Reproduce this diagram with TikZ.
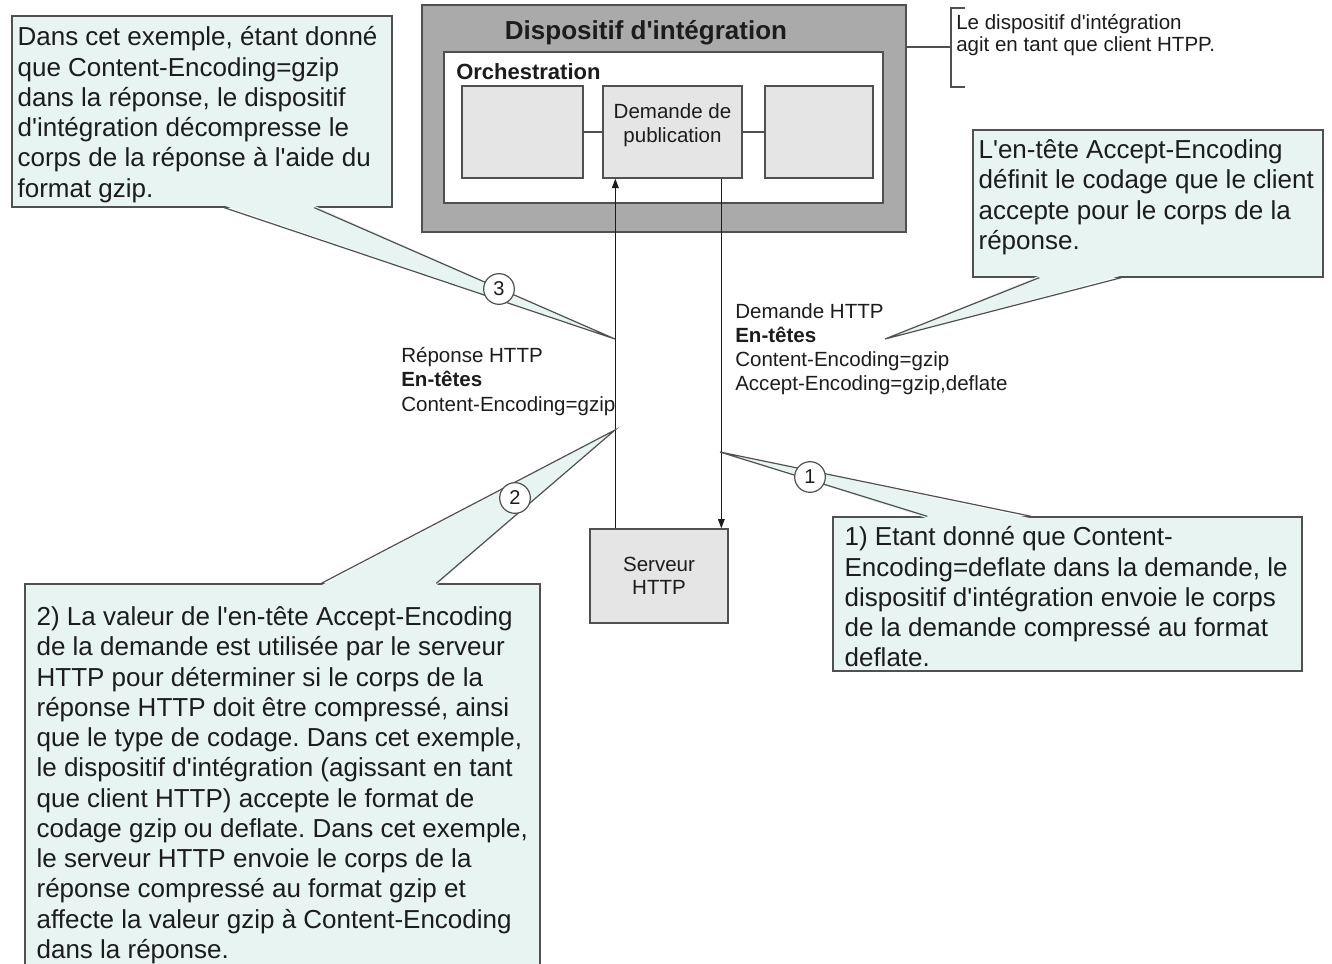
\documentclass[tikz,border=0pt]{standalone}
\usepackage{fontspec}
\setmainfont{Liberation Sans}[Ligatures=TeXOff]
\usepackage{xcolor}
\usetikzlibrary{arrows.meta,positioning,calc}
\frenchspacing
\definecolor{notefill}{RGB}{231,244,242}
\definecolor{devgray}{RGB}{170,170,170}
\definecolor{boxgray}{RGB}{229,229,229}
\definecolor{edge}{RGB}{80,80,80}
\definecolor{ink}{RGB}{28,28,28}
\tikzset{
  sized/.style 2 args = {minimum width=#1*0.75pt, minimum height=#2*0.75pt,
                          inner sep=0pt},
  dev box/.style      = {draw=edge, line width=1.4pt, fill=devgray},
  orch box/.style     = {draw=edge, line width=1pt, fill=white},
  step box/.style     = {draw=edge, line width=1pt, fill=boxgray},
  note box/.style     = {draw=edge, line width=1pt, fill=notefill},
  note text/.style    = {font=\fontsize{19.5}{22.7}\selectfont, text=ink,
                          align=left, anchor=north west, inner sep=0pt},
  small text/.style   = {font=\fontsize{15.4}{18}\selectfont, text=ink,
                          align=left, anchor=north west, inner sep=0pt},
  num node/.style     = {draw=edge, circle, fill=white, line width=0.9pt,
                          minimum size=23pt, inner sep=0pt, text=ink,
                          font=\fontsize{15}{16}\selectfont},
  tail line/.style    = {draw=edge, line width=0.9pt, line join=miter},
  arr/.style          = {-{Triangle[length=7pt,width=5pt]}, line width=0.9pt,
                          draw=ink},
  plain line/.style   = {draw=edge, line width=1pt},
}
\begin{document}
\begin{tikzpicture}[x=0.75pt, y=-0.75pt]
  \useasboundingbox (0,0) rectangle (1332,964);

  %% --- integration device -----------------------------------------
  \node[dev box, sized={484}{227}] (dev) at (664,118.5) {};
  \node[font=\bfseries\fontsize{19.5}{22}\selectfont, text=ink, anchor=base]
    (devtitle) at (646,39) {Dispositif d'intégration};
  \node[orch box, sized={439}{151}] (orch) at (663.5,127.5) {};
  \node[font=\bfseries\fontsize{16.5}{18}\selectfont, text=ink,
        anchor=base west, inner sep=0pt] (orchtitle) at (456,79) {Orchestration};
  \node[step box, sized={121}{92}] (lbox) at (522.5,132) {};
  \node[step box, sized={139}{92}, align=center, text=ink,
        font=\fontsize{15.4}{18}\selectfont] (pub) at (672.5,132)
    {Demande de\\publication\\[-4pt]};
  \node[step box, sized={108}{92}] (rbox) at (819,132) {};
  \draw[plain line] (lbox) -- (pub);
  \draw[plain line] (pub) -- (rbox);

  %% client note with bracket
  \coordinate (brk) at (951,47);
  \draw[plain line] (dev.east |- brk) -- (brk);
  \draw[plain line] ($(brk)+(14,-39)$) -- ($(brk)+(0,-39)$)
    -- ($(brk)+(0,40)$) -- ($(brk)+(14,40)$);
  \node[small text, font=\fontsize{15.4}{16.5}\selectfont] (client) at (956,14)
    {Le dispositif d'intégration\\agit en tant que client HTPP.};

  %% --- HTTP server and messages -----------------------------------
  \node[step box, sized={138}{94}, align=center, text=ink,
        font=\fontsize{15.4}{17.3}\selectfont] (srv) at (659,576)
    {Serveur\\HTTP};
  \draw[arr] ($(srv.north west)+(26,0)$) coordinate (up0) -- (up0 |- pub.south);
  \draw[arr] ($(pub.south west)+(119,0)$) coordinate (dn0) -- (dn0 |- srv.north);

  \node[small text] (req) at (735,303)
    {Demande HTTP\\\textbf{En-têtes}\\Content-Encoding=gzip\\Accept-Encoding=gzip,deflate};
  \node[small text, font=\fontsize{15.4}{18.4}\selectfont] (resp) at (401,347)
    {Réponse HTTP\\\textbf{En-têtes}\\Content-Encoding=gzip};

  %% --- callouts -----------------------------------------------------
  \coordinate (t3) at (615,339);
  \coordinate (t2) at (615,430);
  \coordinate (t1) at (720,452);
  \coordinate (tA) at (885,339);

  % 3: response decompression
  \node[note box, sized={380}{191}] (c3) at (202,111.5) {};
  \fill[notefill] ($(c3.south west)+(213,-2)$) -- (t3) -- ($(c3.south west)+(303,-2)$) -- cycle;
  \draw[tail line] ($(c3.south west)+(213,0)$) -- (t3) -- ($(c3.south west)+(303,0)$);
  \node[note text] (c3text) at ($(c3.north west)+(6,11)$)
    {Dans cet exemple, étant donné\\que Content-Encoding=gzip\\dans la réponse, le dispositif\\d'intégration décompresse le\\corps de la réponse à l'aide du\\format gzip.};
  \node[num node] (n3) at (499,289) {3};

  % Accept-Encoding header
  \node[note box, sized={350}{147}] (cA) at (1148,203.5) {};
  \fill[notefill] ($(cA.south west)+(67,-2)$) -- (tA) -- ($(cA.south west)+(149,-2)$) -- cycle;
  \draw[tail line] ($(cA.south west)+(67,0)$) -- (tA) -- ($(cA.south west)+(149,0)$);
  \node[note text] (cAtext) at ($(cA.north west)+(6,10)$)
    {L'en-tête Accept-Encoding\\définit le codage que le client\\accepte pour le corps de la\\réponse.};

  % 1: request compression
  \node[note box, sized={469}{154}] (c1) at (1067.5,594) {};
  \fill[notefill] ($(c1.north west)+(95,2)$) -- (t1) -- ($(c1.north west)+(199,2)$) -- cycle;
  \draw[tail line] ($(c1.north west)+(95,0)$) -- (t1) -- ($(c1.north west)+(199,0)$);
  \node[note text] (c1text) at ($(c1.north west)+(12,10)$)
    {1) Etant donné que Content-\\Encoding=deflate dans la demande, le\\dispositif d'intégration envoie le corps\\de la demande compressé au format\\deflate.};
  \node[num node] (n1) at (810,477) {1};

  % 2: server side encoding
  \node[note box, sized={515}{401}] (c2) at (282.5,784.5) {};
  \fill[notefill] ($(c2.north west)+(297,2)$) -- (t2) -- ($(c2.north west)+(412,2)$) -- cycle;
  \draw[tail line] ($(c2.north west)+(297,0)$) -- (t2) -- ($(c2.north west)+(412,0)$);
  \node[note text] (c2text) at ($(c2.north west)+(12,23)$)
    {2) La valeur de l'en-tête Accept-Encoding\\de la demande est utilisée par le serveur\\HTTP pour déterminer si le corps de la\\réponse HTTP doit être compressé, ainsi\\que le type de codage. Dans cet exemple,\\le dispositif d'intégration (agissant en tant\\que client HTTP) accepte le format de\\codage gzip ou deflate. Dans cet exemple,\\le serveur HTTP envoie le corps de la\\réponse compressé au format gzip et\\affecte la valeur gzip à Content-Encoding\\dans la réponse.};
  \node[num node] (n2) at (515,498) {2};
\end{tikzpicture}
\end{document}
